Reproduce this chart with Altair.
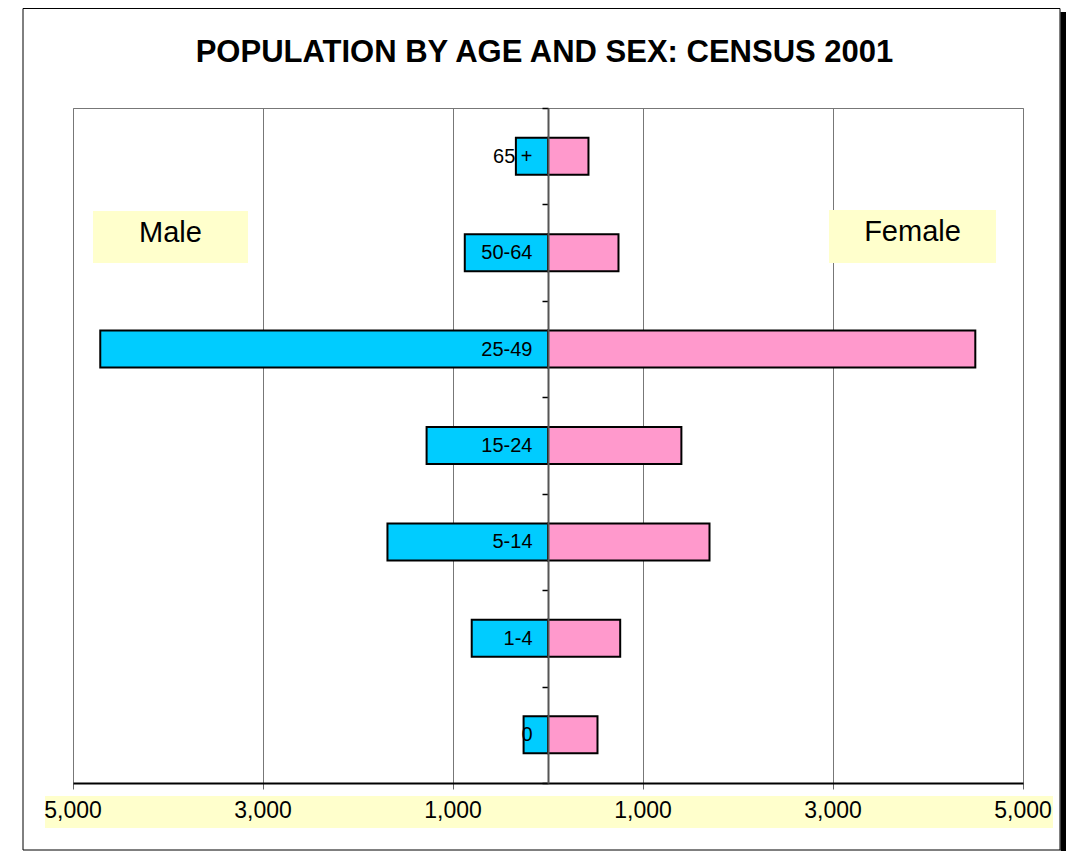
import altair as alt
import pandas as pd

# ---- data ----
ages = ["65 +", "50-64", "25-49", "15-24", "5-14", "1-4", "0"]
male = [338, 876, 4713, 1278, 1690, 803, 257]
female = [426, 742, 4498, 1404, 1700, 760, 521]
tick_values = [-5000, -3000, -1000, 1000, 3000, 5000]
title_text = ["POPULATION BY AGE AND SEX: CENSUS 2001"]
side_labels = ["Male", "Female"]

rows = []
for a, m, f in zip(ages, male, female):
    rows.append({"age": a, "sex": "Male", "value": -m})
    rows.append({"age": a, "sex": "Female", "value": f})
df = pd.DataFrame(rows)
ticks_df = pd.DataFrame({"v": tick_values,
                         "lab": [f"{abs(v):,}" for v in tick_values]})

W, H = 950, 675
FONT = "Liberation Sans"

xscale = alt.Scale(domain=[-5000, 5000], nice=False, zero=False)
one = pd.DataFrame({"k": [0]})

frame = alt.Chart(one).mark_rect(fillOpacity=0, stroke="black", strokeWidth=1).encode(
    x=alt.value(-50), x2=alt.value(987), y=alt.value(-99.5), y2=alt.value(742))
shadow = alt.Chart(one).mark_rect(fill="black").encode(
    x=alt.value(987.5), x2=alt.value(993), y=alt.value(-96), y2=alt.value(743))
band = alt.Chart(one).mark_rect(fill="#FFFFCC").encode(
    x=alt.value(-28), x2=alt.value(980), y=alt.value(688), y2=alt.value(720))
male_box = alt.Chart(one).mark_rect(fill="#FFFFCC").encode(
    x=alt.value(20), x2=alt.value(175), y=alt.value(103), y2=alt.value(155))
female_box = alt.Chart(one).mark_rect(fill="#FFFFCC").encode(
    x=alt.value(756), x2=alt.value(923), y=alt.value(102), y2=alt.value(155))

bars = alt.Chart(df).mark_bar(size=37, stroke="black", strokeWidth=2).encode(
    x=alt.X("value:Q", scale=xscale,
            axis=alt.Axis(values=tick_values, labels=False, title=None,
                          grid=True, gridColor="#777", gridWidth=1,
                          domainColor="black", domainWidth=2,
                          tickColor="#666", tickSize=6, tickWidth=1, zindex=0)),
    y=alt.Y("age:N", sort=ages,
            scale=alt.Scale(paddingInner=0, paddingOuter=0),
            axis=alt.Axis(orient="left", offset=-W / 2, title=None,
                          domainColor="#555", domainWidth=2,
                          tickColor="black", tickSize=6, tickWidth=1.5,
                          tickBand="extent", labelAlign="right",
                          labelBaseline="middle", labelPadding=10,
                          labelFont=FONT, labelFontSize=20,
                          labelColor="black", zindex=1, grid=False)),
    color=alt.Color("sex:N", scale=alt.Scale(domain=["Male", "Female"],
                                            range=["#00CCFF", "#FF99CC"]),
                    legend=None),
)

tick_labels = alt.Chart(ticks_df).mark_text(
    font=FONT, fontSize=23, color="black", align="center", baseline="alphabetic"
).encode(x=alt.X("v:Q", scale=xscale), y=alt.value(710), text="lab:N")

title = alt.Chart(pd.DataFrame({"t": title_text})).mark_text(
    font=FONT, fontSize=31, fontWeight="bold", color="black",
    align="center", baseline="alphabetic"
).encode(x=alt.value(471.5), y=alt.value(-46), text="t:N")

male_txt = alt.Chart(pd.DataFrame({"t": [side_labels[0]]})).mark_text(
    font=FONT, fontSize=29, color="black", align="center", baseline="alphabetic"
).encode(x=alt.value(97.5), y=alt.value(134), text="t:N")
female_txt = alt.Chart(pd.DataFrame({"t": [side_labels[1]]})).mark_text(
    font=FONT, fontSize=29, color="black", align="center", baseline="alphabetic"
).encode(x=alt.value(839.5), y=alt.value(133), text="t:N")

chart = alt.layer(
    frame, shadow, band, male_box, female_box, bars, tick_labels,
    title, male_txt, female_txt
).properties(
    width=W, height=H,
    autosize=alt.AutoSizeParams(type="none"),
    padding={"left": 65, "top": 100, "right": 44, "bottom": 69},
).configure_view(stroke="#777", strokeWidth=1)

chart.save("out.html", embed_options={"renderer": "svg", "actions": False})
